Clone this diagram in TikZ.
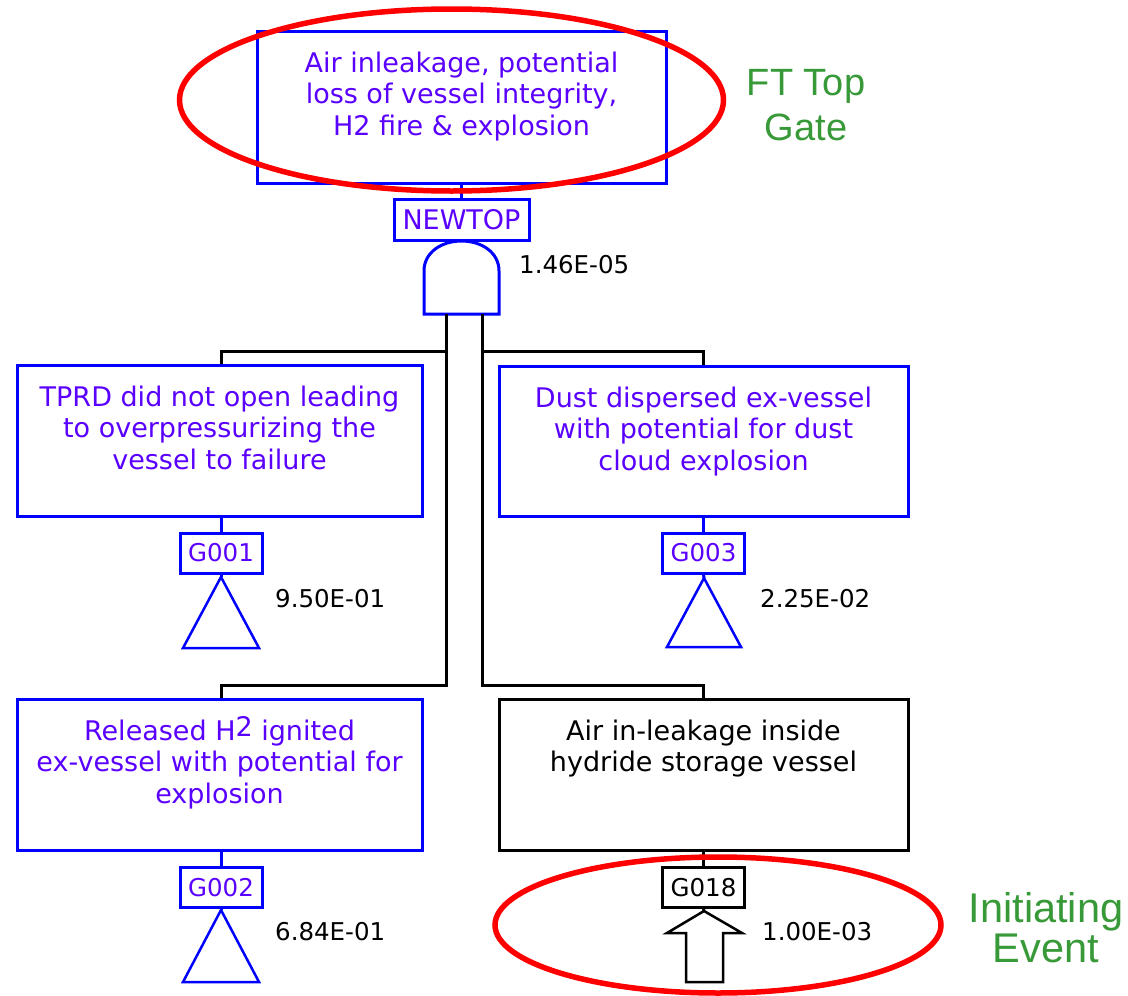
\documentclass[tikz,border=0pt]{standalone}
\usepackage{fontspec}
\setmainfont{DejaVu Sans}
\newfontfamily\arialf{Liberation Sans}
\usetikzlibrary{shapes.geometric}
\definecolor{gblue}{RGB}{0,0,255}
\definecolor{gtext}{RGB}{90,0,255}
\definecolor{ggreen}{RGB}{56,153,56}
\definecolor{ered}{RGB}{255,0,0}
\newcommand\gtxt[3]{\parbox[c][#2][t]{#1}{\centering\rule{0pt}{41pt}#3\par}}
\begin{document}
\begin{tikzpicture}[x=1pt,y=-1pt,
  gatebox/.style={draw=gblue, line width=3pt, inner sep=0pt, text=gtext, font=\fontsize{27}{31.5}\selectfont},
  evbox/.style={gatebox, draw=black, text=black},
  tagbox/.style={draw=gblue, line width=3pt, inner sep=0pt, minimum width=82pt, minimum height=40pt, text=gtext, font=\fontsize{24.5}{28}\selectfont},
  evtag/.style={tagbox, draw=black, text=black},
  prob/.style={anchor=base west, inner sep=0pt, text=black, font=\fontsize{24.5}{28}\selectfont},
  bl/.style={draw=gblue, line width=3pt},
  conn/.style={draw=black, line width=3pt},
  tri/.style={draw=gblue, line width=2.5pt, line join=miter},
  evline/.style={draw=black, line width=2.5pt, line join=miter},
  ring/.style={draw=ered, ellipse, line width=5.5pt, inner sep=0pt},
  note/.style={text=ggreen, inner sep=0pt, anchor=base}
]
\useasboundingbox (0,0) rectangle (1128,996);

% gate boxes
\node[gatebox] (top) at (461.5,107) {\gtxt{409pt}{152pt}{Air inleakage, potential\\loss of vessel integrity,\\H2 fire \& explosion}};
\node[tagbox, minimum width=135pt, minimum height=41pt, font=\fontsize{27}{31.5}\selectfont] (newtop) at (461.5,219.5) {NEWTOP};
\node[prob] (pnew) at (519,273) {1.46E-05};

\node[gatebox] (tprd) at (219.5,440.5) {\gtxt{405pt}{151pt}{TPRD did not open leading\\to overpressurizing the\\vessel to failure}};
\node[gatebox] (dust) at (703.5,441) {\gtxt{409pt}{150pt}{Dust dispersed ex-vessel\\with potential for dust\\cloud explosion}};
\node[gatebox] (rel) at (219.5,774.5) {\gtxt{405pt}{151pt}{Released H\raisebox{3.5pt}{2} ignited\\ex-vessel with potential for\\explosion}};
\node[evbox] (air) at (703.5,774.5) {\gtxt{409pt}{151pt}{Air in-leakage inside\\hydride storage vessel}};

\node[tagbox] (g001) at (221,553) {G001};
\node[tagbox] (g003) at (703.5,553) {G003};
\node[tagbox] (g002) at (221,887.5) {G002};
\node[evtag] (g018) at (703.5,887.5) {G018};

\node[prob] (p1) at (275,607) {9.50E-01};
\node[prob] (p3) at (760,607) {2.25E-02};
\node[prob] (p2) at (275,940) {6.84E-01};
\node[prob] (p18) at (762,940) {1.00E-03};

% AND gate
\coordinate (gtop) at (461.5,241);
\coordinate (andL) at (446,314);
\coordinate (andR) at (482,314);
\coordinate (yA) at (0,351);
\coordinate (yB) at (0,685);
\draw[bl, line join=miter] (424,314) -- (424,271) .. controls (424,252) and (442,241) .. (gtop)
  .. controls (481,241) and (499,252) .. (499,271) -- (499,314) -- cycle;

% connectors
\draw[bl] (top.south) -- (newtop.north);
\draw[conn] (andL) -- (andL |- yB) -| (g002 |- rel.north);
\draw[conn] (andL |- yA) -| (g001 |- tprd.north);
\draw[conn] (andR) -- (andR |- yB) -| (air.north);
\draw[conn] (andR |- yA) -| (dust.north);

\draw[bl] (g001 |- tprd.south) -- (g001.north);
\draw[bl] (dust.south) -- (g003.north);
\draw[bl] (g002 |- rel.south) -- (g002.north);
\draw[conn] (air.south) -- (g018.north);

% transfer triangles
\coordinate (t1) at (221,577);
\coordinate (t3) at (704,578);
\coordinate (t2) at (221,910);
\draw[bl] (g001.south) -- (t1);
\draw[bl] (g003.south) -- (t3);
\draw[bl] (g002.south) -- (t2);
\draw[tri] (t1) -- ++(38,71) -- ++(-76,0) -- cycle;
\draw[tri] (t3) -- ++(37,69) -- ++(-74,0) -- cycle;
\draw[tri] (t2) -- ++(38,72) -- ++(-76,0) -- cycle;

% initiating event arrow
\coordinate (ar) at (704,911);
\draw[conn] (g018.south) -- (ar);
\draw[evline] (ar) -- ++(38,22) -- ++(-19,0) -- ++(0,49) -- ++(-37,0) -- ++(0,-49) -- ++(-19,0) -- cycle;

% annotations
\node[ring, minimum width=544pt, minimum height=182pt] (ftring) at (451.5,100) {};
\node[ring, minimum width=446pt, minimum height=136pt] (iering) at (718,925) {};
\node[note, font=\arialf\fontsize{38}{45}\selectfont] (ftlab) at (806,95) {\begin{tabular}[t]{@{}c@{}}FT Top\\Gate\end{tabular}};
\node[note, font=\arialf\fontsize{41.5}{40}\selectfont] (ielab) at (1046,922) {\begin{tabular}[t]{@{}c@{}}Initiating\\Event\end{tabular}};
\end{tikzpicture}
\end{document}
